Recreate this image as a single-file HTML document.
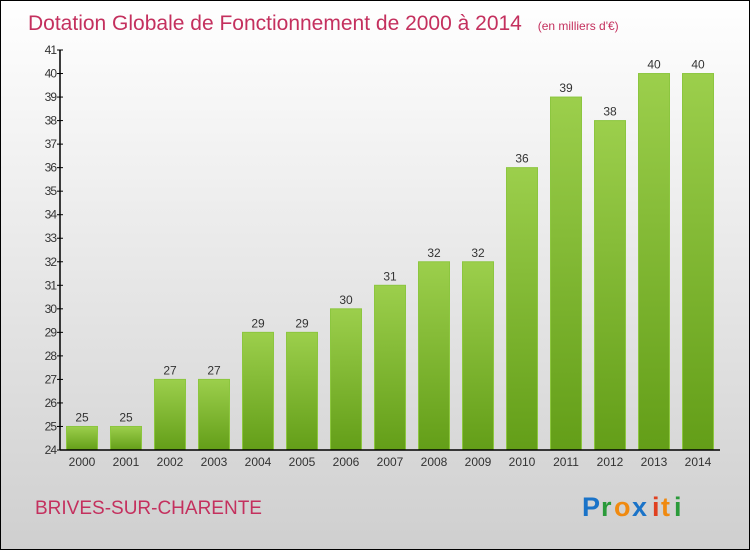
<!DOCTYPE html>
<html><head><meta charset="utf-8"><style>
body{margin:0;padding:0}
svg{display:block;font-family:"Liberation Sans",sans-serif}
</style></head><body>
<svg width="750" height="550" viewBox="0 0 750 550">
<defs>
<linearGradient id="bg" x1="0" y1="0" x2="0" y2="1"><stop offset="0" stop-color="#ffffff"/><stop offset="1" stop-color="#cfcfcf"/></linearGradient>
<linearGradient id="bar" x1="0" y1="0" x2="0" y2="1"><stop offset="0" stop-color="#9ccf4c"/><stop offset="1" stop-color="#639e18"/></linearGradient>
</defs>
<rect x="0.5" y="0.5" width="749" height="549" fill="url(#bg)" stroke="#000"/>
<text x="28" y="30" font-size="21" fill="#c4305e">Dotation Globale de Fonctionnement de 2000 à 2014 <tspan font-size="12" dx="10">(en milliers d'€)</tspan></text>
<g id="plot"></g>
<text x="35" y="514" font-size="19" fill="#c4305e">BRIVES-SUR-CHARENTE</text>
<g font-size="27" font-family="'Liberation Sans',sans-serif" font-weight="bold">
<text x="582" y="516" fill="#1a73c8">P</text><text x="601" y="516" fill="#2a9a3a">r</text><text x="614" y="516" fill="#f08a10">o</text><text x="632" y="516" fill="#1a73c8">x</text><text x="652" y="516" fill="#e04020">i</text><text x="661" y="516" fill="#f08a10">t</text><text x="674" y="516" fill="#2a9a3a">i</text>
</g>
</svg>
<script>
const years=["2000","2001","2002","2003","2004","2005","2006","2007","2008","2009","2010","2011","2012","2013","2014"];
const values=[25,25,27,27,29,29,30,31,32,32,36,39,38,40,40];
const yTicks=[24,25,26,27,28,29,30,31,32,33,34,35,36,37,38,39,40,41];
const NS="http://www.w3.org/2000/svg";
const plotG=document.getElementById('plot');
const yMin=24,yMax=41,pTop=50,pBot=450,pLeft=60,pRight=720;
const yS=v=>pBot-(v-yMin)/(yMax-yMin)*(pBot-pTop);
const step=(pRight-pLeft)/years.length;
const xS=i=>pLeft+step*(i+0.5);
function mk(t,a,txt){const e=document.createElementNS(NS,t);for(const k in a)e.setAttribute(k,a[k]);if(txt!==undefined)e.textContent=txt;plotG.appendChild(e);return e;}
values.forEach((v,i)=>{
 const b=mk('rect',{x:xS(i)-15.5,y:yS(v),width:31,height:pBot-yS(v),fill:'url(#bar)',stroke:'#8cc63f','stroke-width':1});
 
 
 const l=mk('text',{x:xS(i),y:yS(v)-5,'font-size':12,fill:'#333','text-anchor':'middle'},String(v));
 
 
 const t=mk('text',{x:xS(i),y:pBot+16,'font-size':12,fill:'#333','text-anchor':'middle'},years[i]);
 
 
});
yTicks.forEach(v=>{
 const tk=mk('line',{x1:pLeft-3,x2:pLeft+3,y1:yS(v),y2:yS(v),stroke:'#000'});
 
 
 const t=mk('text',{x:pLeft-4,y:yS(v)+4,'font-size':12,fill:'#333','text-anchor':'end','letter-spacing':'-1'},String(v));
 
 
});
const ya=mk('line',{x1:pLeft,x2:pLeft,y1:pTop,y2:pBot,stroke:'#000','stroke-width':1.5});


const xa=mk('line',{x1:pLeft,x2:pRight,y1:pBot,y2:pBot,stroke:'#000','stroke-width':1.5});


</script>
</body></html>
